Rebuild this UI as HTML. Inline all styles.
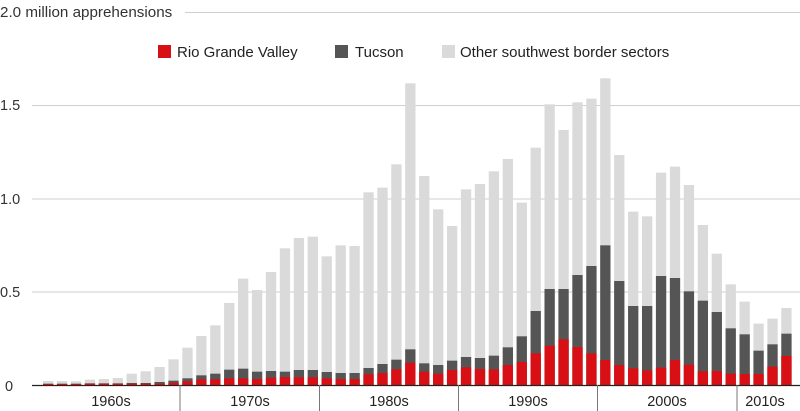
<!DOCTYPE html>
<html><head><meta charset="utf-8"><style>
html,body{margin:0;padding:0;background:#fff;}
svg{display:block;font-family:"Liberation Sans",sans-serif;}
</style></head><body>
<svg id="c" width="800" height="411" viewBox="0 0 800 411" xmlns="http://www.w3.org/2000/svg">
<rect width="800" height="411" fill="#fff"/>
<g stroke="#cfcfcf" stroke-width="1">
<line x1="185" y1="12.5" x2="800" y2="12.5"/>
<line x1="32" y1="105.5" x2="800" y2="105.5"/>
<line x1="32" y1="199" x2="800" y2="199"/>
<line x1="32" y1="292" x2="800" y2="292"/>
</g>
<g font-size="14.5" fill="#333">
<text x="0" y="17" font-size="15.2">2.0 million apprehensions</text>
<text x="0" y="110">1.5</text>
<text x="0" y="204">1.0</text>
<text x="0" y="297">0.5</text>
<text x="5" y="391">0</text>
</g>
<g font-size="15" fill="#222">
<rect x="158" y="45" width="13" height="13" fill="#d81015"/>
<text x="177" y="57">Rio Grande Valley</text>
<rect x="335" y="45" width="13" height="13" fill="#555"/>
<text x="355" y="57">Tucson</text>
<rect x="442" y="45" width="13" height="13" fill="#dadada"/>
<text x="460" y="57">Other southwest border sectors</text>
</g>
<g id="bars"></g>
<line x1="32" y1="385.5" x2="800" y2="385.5" stroke="#222" stroke-width="1.2"/>
<g stroke="#777" stroke-width="1">
<line x1="180" y1="385" x2="180" y2="411"/>
<line x1="319.5" y1="385" x2="319.5" y2="411"/>
<line x1="458.5" y1="385" x2="458.5" y2="411"/>
<line x1="597.5" y1="385" x2="597.5" y2="411"/>
<line x1="737" y1="385" x2="737" y2="411"/>
</g>
<g font-size="14.5" fill="#222" text-anchor="middle">
<text x="111" y="406">1960s</text>
<text x="250" y="406">1970s</text>
<text x="389" y="406">1980s</text>
<text x="528" y="406">1990s</text>
<text x="667" y="406">2000s</text>
<text x="765" y="406">2010s</text>
</g>
</svg>
<script>
var T=[1143,1143,1144,1139,1137,1134,1121,1114,1101,1078,
1043,1008,976,909,836,870,816,745,714,710,
769,736,738,577,563,493,250,528,628,678,
568,552,514,477,608,443,313,390,307,296,
235,465,635,649,518,500,555,675,761,853,
905,971,956,924];
var U=[1151,1151,1151,1150,1150,1150,1149,1149,1146,1142,
1135,1126,1121,1109,1106,1115,1113,1115,1110,1110,
1116,1119,1119,1104,1092,1079,1048,1090,1095,1082,
1071,1074,1067,1042,1009,933,867,867,825,798,
736,843,918,918,828,834,874,902,936,985,
1003,1052,1033,1001];
var R=[1152,1152,1152,1151,1151,1151,1151,1151,1151,1148,
1144,1138,1138,1135,1135,1137,1133,1131,1132,1132,
1135,1137,1137,1123,1119,1108,1088,1115,1121,1110,
1102,1107,1108,1095,1086,1060,1037,1018,1041,1060,
1080,1095,1105,1111,1103,1080,1094,1114,1113,1121,
1122,1122,1100,1068];
var g=document.getElementById('bars'),s='',B=385;
for(var i=0;i<T.length;i++){
var x=43+i*13.93,w=10.3,t=T[i]/3,u=U[i]/3,r=R[i]/3;
s+='<rect x="'+x+'" y="'+t+'" width="'+w+'" height="'+(B-t)+'" fill="#dadada"/>';
s+='<rect x="'+x+'" y="'+u+'" width="'+w+'" height="'+(B-u)+'" fill="#555"/>';
s+='<rect x="'+x+'" y="'+r+'" width="'+w+'" height="'+(B-r)+'" fill="#d81015"/>';
}
g.innerHTML=s;
</script>
</body></html>
